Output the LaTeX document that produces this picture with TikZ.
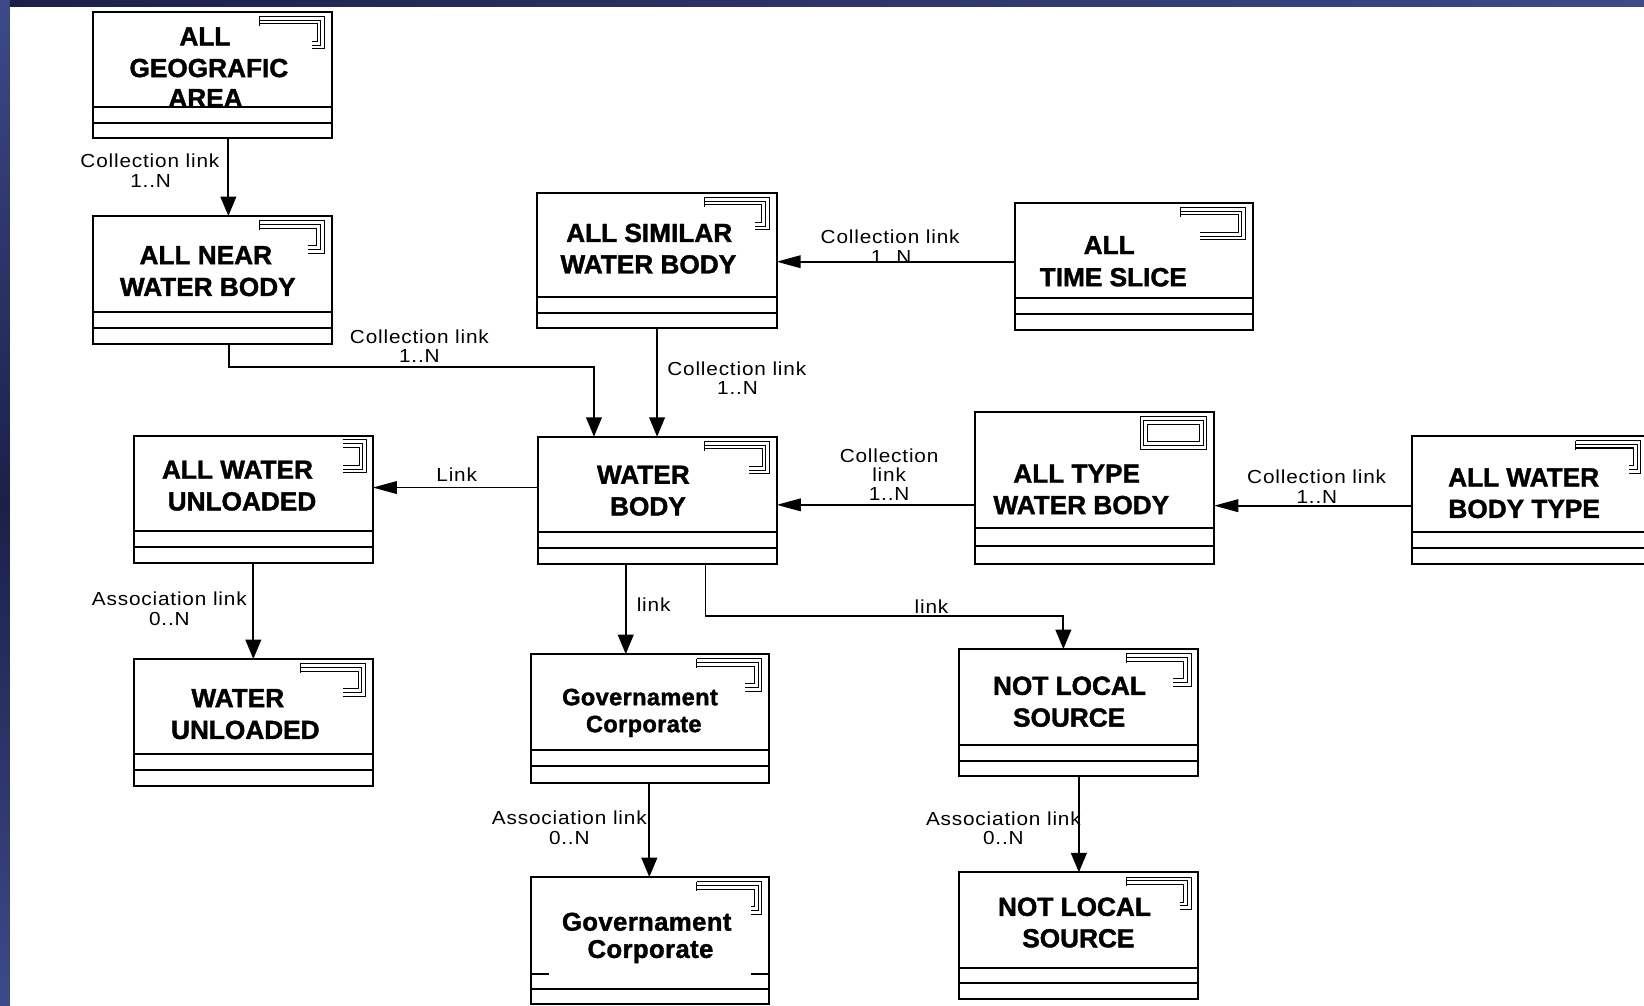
\documentclass[tikz,border=0pt]{standalone}
\usepackage{graphicx}
\usepackage{fontspec}
\setmainfont{Liberation Sans}
\newfontfamily\namefont[BoldFeatures={FakeBold=1.5}]{Liberation Sans}
\newfontfamily\linkfont[LetterSpace=4]{Liberation Sans}
\newfontfamily\govfont[LetterSpace=1.5,BoldFeatures={FakeBold=1.5}]{Liberation Sans}
\usetikzlibrary{arrows.meta}

\definecolor{frameblue}{RGB}{46,57,112}
\definecolor{framedeep}{RGB}{27,32,72}
\definecolor{framelight}{RGB}{60,74,138}

% connector labels are set slightly wide
\newcommand\widetext[1]{\scalebox{1.1}[1]{#1}}

\tikzset{
  clsbox/.style={rectangle, draw=black, fill=white, line width=1.9pt, inner sep=0pt, outer sep=0pt},
  divider/.style={line width=1.9pt},
  conn/.style={line width=1.7pt},
  varr/.style={conn, -{Triangle[length=18.5pt,width=15pt]}},
  harr/.style={conn, -{Triangle[length=23pt,width=12pt]}},
  clstitle/.style={font=\namefont\fontsize{25}{30}\selectfont\bfseries, inner sep=0pt, anchor=base},
  govA/.style={font=\govfont\fontsize{22.5}{26}\selectfont\bfseries, inner sep=0pt, anchor=base},
  govB/.style={font=\govfont\fontsize{24.5}{27}\selectfont\bfseries, inner sep=0pt, anchor=base},
  linklabel/.style={font=\linkfont\fontsize{18}{20}\selectfont, inner sep=0pt, anchor=base},
  glyphline/.style={line width=1pt, double distance=6pt, line join=miter},
  glyphcore/.style={line width=1pt, line join=miter},
}

% class box: name, left, top, right, bottom, first and second compartment line
\newcommand\umlclass[7]{%
  \node[clsbox, anchor=north west, minimum width={#4-#2}, minimum height={#5-#3}] (#1) at (#2,#3) {};
  \draw[divider] (#2,#6) -- (#4,#6) (#2,#7) -- (#4,#7);
}
% triple-line class glyph in the upper right corner: right edge, top edge, foot length
\newcommand\cornerglyph[3]{%
  \draw[glyphline] ({#1-69},{#2+8}) -- ({#1-10.5},{#2+8}) -- ({#1-10.5},{#2+32}) -- ({#1-#3},{#2+32});
  \draw[glyphcore] ({#1-69},{#2+8}) -- ({#1-10.5},{#2+8}) -- ({#1-10.5},{#2+32}) -- ({#1-#3},{#2+32});
  \draw[glyphcore] ({#1-69},{#2+4.5}) -- ({#1-69},{#2+13.5});
}

\begin{document}
\begin{tikzpicture}[x=1pt,y=-1pt]
\useasboundingbox (0,0) rectangle (1568,959);
\clip (0,0) rectangle (1568,959);

% dark slide frame along the left and top edges
\fill[frameblue] (0,0) rectangle (1568,959);
\shade[top color=framelight, bottom color=framelight, middle color=framedeep] (0,0) rectangle (9.5,959);
\shade[left color=framedeep, right color=framelight] (9.5,0) rectangle (1568,6.4);
\fill[white] (9.5,6.4) rectangle (1568,959);

% class boxes
\umlclass{geo}{88.7}{11.1}{316.6}{131.9}{102.4}{117.6}
\umlclass{near}{89}{206}{316.3}{328}{297.9}{313.2}
\umlclass{sim}{512.5}{183.8}{740.7}{313.2}{283.6}{298.8}
\umlclass{time}{968}{193.3}{1195}{314.7}{284.5}{299.5}
\umlclass{wb}{513}{416.5}{740.8}{537.9}{507}{522.3}
\umlclass{alltype}{930}{393.3}{1158}{537.9}{504}{520.7}
\umlclass{awbt}{1347}{415.8}{1572}{537.9}{507.1}{522.3}
\umlclass{awu}{127.8}{415.6}{355.5}{537.3}{506.1}{521.7}
\umlclass{wu}{127.8}{628.5}{355.5}{749.7}{719.5}{734.4}
\umlclass{gov1}{506.5}{623.8}{733.5}{746.8}{715.4}{730.6}
\node[clsbox, anchor=north west, minimum width=227pt, minimum height=121.3pt] (gov2) at (506.5,836.5) {};
\draw[divider] (506.5,929) -- (523.6,929) (716.3,929) -- (733.5,929) (506.5,943.3) -- (733.5,943.3);
\umlclass{nls1}{915}{619}{1143}{740.1}{710.6}{725.5}
\umlclass{nls2}{915}{832}{1143}{952.8}{922.9}{937.9}

% corner glyphs
\cornerglyph{316.6}{11.1}{19.4}
\cornerglyph{316.3}{206}{22.9}
\cornerglyph{740.7}{183.8}{20.7}
\cornerglyph{1195}{193.3}{50.3}
\cornerglyph{740.8}{416.5}{26.2}
\cornerglyph{1572}{415.8}{18}
\cornerglyph{355.5}{628.5}{28.6}
\cornerglyph{733.5}{623.8}{22.9}
\cornerglyph{733.5}{836.5}{17.5}
\cornerglyph{1143}{619}{23.9}
\cornerglyph{1143}{832}{17.5}
% closed glyph of ALL TYPE WATER BODY
\draw[glyphline] (1091,401.1) rectangle (1147.5,424.8);
\draw[glyphcore] (1091,401.1) rectangle (1147.5,424.8);
% bracket glyph of ALL WATER UNLOADED
\draw[glyphline] (326.9,422.9) -- (346,422.9) -- (346,447.4) -- (326.9,447.4);
\draw[glyphcore] (326.9,422.9) -- (346,422.9) -- (346,447.4) -- (326.9,447.4);

% class names
\node[clstitle] (geo-a) at (195.5,43.3) {ALL};
\node[clstitle] (geo-b) at (199.2,73.5) {GEOGRAFIC};
\node[clstitle] (geo-c) at (196,102.1) {AREA};
\node[clstitle] (near-a) at (196.3,252) {ALL NEAR};
\node[clstitle] (near-b) at (198.2,282.3) {WATER BODY};
\node[clstitle] (sim-a) at (619.2,230.8) {ALL SIMILAR};
\node[clstitle] (sim-b) at (618.4,260.8) {WATER BODY};
\node[clstitle] (time-a) at (1057.9,242.3) {ALL};
\node[clstitle] (time-b) at (1061.8,273) {TIME SLICE};
\node[clstitle] (wb-a) at (613.6,461.4) {WATER};
\node[clstitle] (wb-b) at (618,491.6) {BODY};
\node[clstitle] (alltype-a) at (1026.9,460.4) {ALL TYPE};
\node[clstitle] (alltype-b) at (1031.3,490.3) {WATER BODY};
\node[clstitle] (awbt-a) at (1453.2,463.9) {ALL WATER};
\node[clstitle] (awbt-b) at (1453.7,494) {BODY TYPE};
\node[clstitle] (awu-a) at (226.5,456.6) {ALL WATER};
\node[clstitle] (awu-b) at (230.8,486.8) {UNLOADED};
\node[clstitle] (wu-a) at (226.8,674.4) {WATER};
\node[clstitle] (wu-b) at (234,704.8) {UNLOADED};
\node[govA] (gov1-a) at (610.4,672.6) {Governament};
\node[govA] (gov1-b) at (614,698.3) {Corporate};
\node[govB] (gov2-a) at (616.8,887.6) {Governament};
\node[govB] (gov2-b) at (620.4,913.6) {Corporate};
\node[clstitle] (nls1-a) at (1020,662.7) {NOT LOCAL};
\node[clstitle] (nls1-b) at (1019.7,693) {SOURCE};
\node[clstitle] (nls2-a) at (1024.8,873.5) {NOT LOCAL};
\node[clstitle] (nls2-b) at (1028.5,903.5) {SOURCE};

% connectors
\coordinate (cx1) at (217.8,0);
\draw[varr] (cx1 |- geo.south) -- (cx1 |- near.north);
\coordinate (cx2) at (218.4,0);
\coordinate (bend2) at (566.5,349.7);
\draw[varr] (cx2 |- near.south) |- (bend2) -- (bend2 |- wb.north);
\coordinate (cx3) at (626.7,0);
\draw[varr] (cx3 |- sim.south) -- (cx3 |- wb.north);
\coordinate (cy4) at (0,249.6);
\draw[harr] (cy4 -| time.west) -- (cy4 -| sim.east);
\coordinate (cy5) at (0,481.5);
\draw[harr] (cy5 -| alltype.west) -- (cy5 -| wb.east);
\coordinate (cy6) at (0,482.3);
\draw[harr] (cy6 -| awbt.west) -- (cy6 -| alltype.east);
\coordinate (cy7) at (0,465);
\draw[harr] (cy7 -| wb.west) -- (cy7 -| awu.east);
\coordinate (cx8) at (241.6,0);
\draw[varr] (cx8 |- awu.south) -- (cx8 |- wu.north);
\coordinate (cx9) at (596.8,0);
\draw[varr] (cx9 |- wb.south) -- (cx9 |- gov1.north);
\coordinate (cx10) at (672.8,0);
\coordinate (bend10) at (1014.2,587.5);
\draw[varr] (cx10 |- wb.south) |- (bend10) -- (bend10 |- nls1.north);
\coordinate (cx11) at (619.3,0);
\draw[varr] (cx11 |- gov1.south) -- (cx11 |- gov2.north);
\coordinate (cx12) at (1029,0);
\draw[varr] (cx12 |- nls1.south) -- (cx12 |- nls2.north);

% connector labels
\node[linklabel] (lab1a) at (143,159.4) {\widetext{Collection link}};
\node[linklabel] (lab1b) at (143.7,178.8) {\widetext{1..N}};
\node[linklabel] (lab2a) at (400,327.2) {\widetext{Collection link}};
\node[linklabel] (lab2b) at (400,345.8) {\widetext{1..N}};
\node[linklabel] (lab3a) at (849,231.9) {\widetext{Collection link}};
\node[linklabel] (lab3b) at (850,251) {\widetext{1..N}};
\node[linklabel] (lab4a) at (702.7,358.2) {\widetext{Collection link}};
\node[linklabel] (lab4b) at (703.4,376.6) {\widetext{1..N}};
\node[linklabel] (lab5a) at (848,440.8) {\widetext{Collection}};
\node[linklabel] (lab5b) at (848,459.2) {\widetext{link}};
\node[linklabel] (lab5c) at (848,477.7) {\widetext{1..N}};
\node[linklabel] (lab6a) at (1255.8,461.4) {\widetext{Collection link}};
\node[linklabel] (lab6b) at (1256,479.9) {\widetext{1..N}};
\node[linklabel] (lab7) at (435.6,459.2) {\widetext{Link}};
\node[linklabel] (lab8a) at (161.5,577.8) {\widetext{Association link}};
\node[linklabel] (lab8b) at (161.5,596.9) {\widetext{0..N}};
\node[linklabel] (lab9) at (623.4,583.2) {\widetext{link}};
\node[linklabel] (lab10) at (888.4,584.8) {\widetext{link}};
\node[linklabel] (lab11a) at (543,786.2) {\widetext{Association link}};
\node[linklabel] (lab11b) at (543,805.2) {\widetext{0..N}};
\node[linklabel] (lab12a) at (957,787.7) {\widetext{Association link}};
\node[linklabel] (lab12b) at (957,805.8) {\widetext{0..N}};
\end{tikzpicture}
\end{document}
